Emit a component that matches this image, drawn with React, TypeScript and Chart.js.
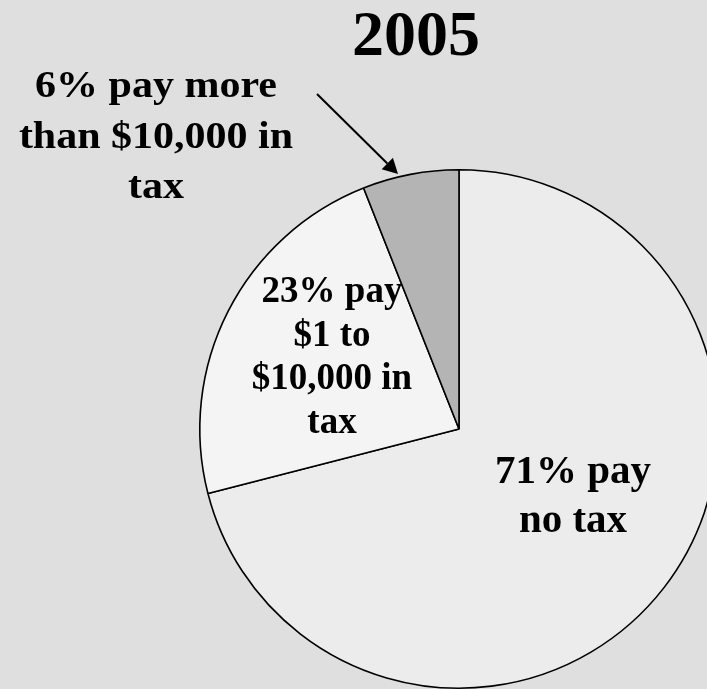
import React, { useEffect, useRef } from "react";
import { Chart, registerables } from "chart.js";

Chart.register(...registerables);

const title = "2005";
const categories = ["Pay no tax", "Pay $1 to $10,000 in tax", "Pay more than $10,000 in tax"];
const shares = [71, 23, 6];
const sliceColors = ["#ececec", "#f4f4f4", "#b4b4b4"];
const labelLines = [
  ["71% pay", "no tax"],
  ["23% pay", "$1 to", "$10,000 in", "tax"],
  ["6% pay more", "than $10,000 in", "tax"],
];

const FONT = "'Liberation Serif', 'Times New Roman', serif";

const textPlugin = {
  id: "textPlugin",
  afterDraw(chart: any) {
    const ctx = chart.ctx;
    const arc = chart.getDatasetMeta(0).data[0];
    const cx = arc.x;
    const cy = arc.y;
    ctx.save();
    ctx.fillStyle = "#000";
    ctx.textAlign = "center";
    ctx.textBaseline = "alphabetic";

    // title
    ctx.font = `bold 64px ${FONT}`;
    ctx.fillText(title, cx - 43, cy - 374);

    // 71% label
    ctx.font = `bold 41px ${FONT}`;
    labelLines[0].forEach((t, i) => ctx.fillText(t, cx + 114, cy + 54 + i * 49));

    // 23% label
    ctx.font = `bold 37px ${FONT}`;
    labelLines[1].forEach((t, i) => ctx.fillText(t, cx - 127, cy - 127 + i * 43.5));

    // 6% label (outside), slightly wide lettering
    ctx.save();
    const lx = cx - 303;
    ctx.translate(lx, 0);
    ctx.scale(1.12, 1);
    ctx.font = `bold 37.5px ${FONT}`;
    labelLines[2].forEach((t, i) => ctx.fillText(t, 0, cy - 332 + i * 50.5));
    ctx.restore();

    // arrow
    const x1 = cx - 142, y1 = cy - 335;
    const x2 = cx - 61, y2 = cy - 255;
    const ang = Math.atan2(y2 - y1, x2 - x1);
    const hl = 15, hw = 8;
    ctx.strokeStyle = "#000";
    ctx.lineWidth = 2;
    ctx.beginPath();
    ctx.moveTo(x1, y1);
    ctx.lineTo(x2 - hl * Math.cos(ang), y2 - hl * Math.sin(ang));
    ctx.stroke();
    ctx.beginPath();
    ctx.moveTo(x2, y2);
    ctx.lineTo(
      x2 - hl * Math.cos(ang) + hw * Math.sin(ang),
      y2 - hl * Math.sin(ang) - hw * Math.cos(ang)
    );
    ctx.lineTo(
      x2 - hl * Math.cos(ang) - hw * Math.sin(ang),
      y2 - hl * Math.sin(ang) + hw * Math.cos(ang)
    );
    ctx.closePath();
    ctx.fill();
    ctx.restore();
  },
};

export default function App() {
  const ref = useRef<HTMLCanvasElement | null>(null);
  useEffect(() => {
    if (!ref.current) return;
    const chart = new Chart(ref.current, {
      type: "pie",
      data: {
        labels: categories,
        datasets: [
          {
            data: shares,
            backgroundColor: sliceColors,
            borderColor: "#000",
            borderWidth: 1.6,
            borderAlign: "center",
          },
        ],
      },
      options: {
        responsive: false,
        animation: false,
        devicePixelRatio: 1,
        rotation: 0,
        layout: { padding: { left: 199, right: 199, top: 169, bottom: 169 } },
        plugins: {
          legend: { display: false },
          tooltip: { enabled: false },
          title: { display: false },
        },
      },
      plugins: [textPlugin],
    });
    return () => chart.destroy();
  }, []);
  return (
    <div
      style={{
        position: "fixed",
        left: 0,
        top: 0,
        width: 707,
        height: 689,
        overflow: "hidden",
        background: "#dfdfdf",
      }}
    >
      <canvas ref={ref} width={918} height={858} style={{ display: "block" }} />
    </div>
  );
}
